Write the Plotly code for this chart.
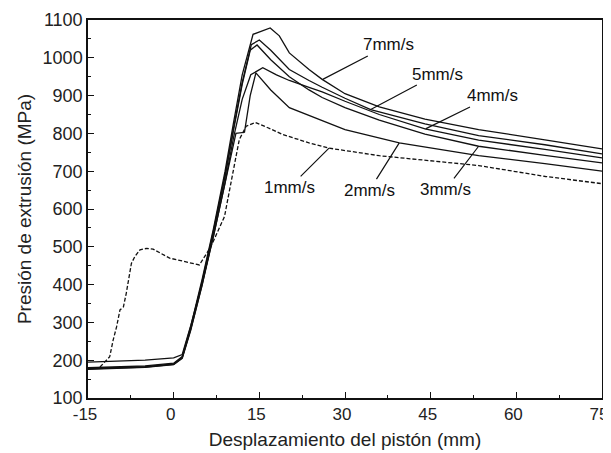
import plotly.graph_objects as go

# ---- data ----
x_7 = [-15, -10, -5, 0, 1.5, 3, 5, 7, 9, 10.5, 12, 13.9, 15.5, 16.9, 18.5, 20.25, 23.7, 26, 30, 36, 44, 53.4, 65, 75]
y_7 = [180, 182, 185, 192, 210, 290, 415, 550, 700, 830, 955, 1062, 1072, 1079, 1058, 1013, 969, 943, 905, 870, 838, 810, 783, 759]

x_5 = [-15, -10, -5, 0, 1.5, 3, 5, 7, 9, 10.5, 12, 13.6, 15, 17, 20.25, 23.7, 26, 30, 34.5, 44, 53.4, 65, 75]
y_5 = [178, 180, 183, 190, 208, 285, 410, 545, 690, 815, 935, 1035, 1047, 1020, 969, 940, 922, 893, 863, 825, 794, 770, 746]

x_4 = [-15, -10, -5, 0, 1.5, 3, 5, 7, 9, 10.5, 12, 13.5, 15.6, 18, 20.25, 23.7, 26, 30, 36, 44, 53.4, 65, 75]
y_4 = [195, 197, 200, 206, 215, 292, 405, 530, 670, 790, 890, 955, 974, 955, 940, 922, 910, 885, 850, 812, 782, 758, 735]

x_3 = [-15, -10, -5, 0, 1.5, 3, 5, 7, 9, 10.5, 12, 13.4, 14.6, 17, 20.25, 23.7, 26, 30, 36, 44, 53.4, 65, 75]
y_3 = [176, 178, 181, 188, 205, 280, 400, 540, 685, 810, 930, 1020, 1034, 995, 950, 915, 895, 868, 835, 798, 766, 742, 722]

x_2 = [-15, -10, -5, 0, 1.5, 3, 5, 7, 9, 10.9, 12.4, 13.4, 14.4, 17, 20.25, 23.7, 26, 30, 39.5, 53.4, 65, 75]
y_2 = [177, 179, 182, 189, 206, 282, 400, 530, 670, 800, 803, 900, 960, 915, 868, 848, 833, 810, 775, 741, 720, 700]

x_1 = [-12.9, -11.2, -10.6, -10, -9.4, -8.8, -8.3, -7.4, -6.8, -5.9, -4.7, -3.6, -0.7, 3.4, 4.5, 6.5, 8.9, 10.7, 11.5, 12.7, 14.3, 16.5, 19.1, 23.7, 27.2, 36, 45, 53.4, 65.1, 75]
y_1 = [182, 209, 253, 288, 333, 341, 377, 456, 474, 492, 496, 494, 470, 456, 452, 500, 580, 722, 784, 819, 829, 815, 797, 775, 761, 741, 728, 715, 686, 667]

series = [
    ("7mm/s", x_7, y_7, "solid"),
    ("5mm/s", x_5, y_5, "solid"),
    ("4mm/s", x_4, y_4, "solid"),
    ("3mm/s", x_3, y_3, "solid"),
    ("2mm/s", x_2, y_2, "solid"),
    ("1mm/s", x_1, y_1, "4px,2px"),
]

# label: (text, text x, text y, pointed x, pointed y)
labels = [
    ("7mm/s", 37.7, 1034, 26.1, 943),
    ("5mm/s", 46.2, 957, 34.5, 863),
    ("4mm/s", 55.8, 899, 44.1, 812),
    ("1mm/s", 20.3, 657, 27.2, 761),
    ("2mm/s", 34.3, 650, 39.5, 775),
    ("3mm/s", 47.6, 652, 53.4, 766),
]

x_ticks = [-15, 0, 15, 30, 45, 60, 75]
y_ticks = [100, 200, 300, 400, 500, 600, 700, 800, 900, 1000, 1100]

FONT = "Liberation Sans, Arial, sans-serif"

fig = go.Figure()
for name, xs, ys, dash in series:
    fig.add_trace(go.Scatter(x=xs, y=ys, mode="lines", name=name,
                             line=dict(color="#111111", width=1.3, dash=dash),
                             showlegend=False))

for text, tx, ty, px, py in labels:
    fig.add_annotation(x=px, y=py, ax=tx, ay=ty, axref="x", ayref="y",
                       text=text, showarrow=True, arrowhead=0, arrowwidth=1.2,
                       arrowcolor="#111111", standoff=0,
                       font=dict(family=FONT, size=17, color="#111111"))

# page body has an 8px margin, so the figure is made 8px smaller each way
fig.update_layout(
    width=603, height=445,
    margin=dict(l=80, r=9, t=12, b=55, autoexpand=False),
    paper_bgcolor="white", plot_bgcolor="white",
    font=dict(family=FONT, size=18, color="#222222"),
)
fig.update_xaxes(range=[-15, 75], tickvals=x_ticks, ticktext=[str(v) for v in x_ticks],
                 ticks="inside", ticklen=6, tickwidth=1.3, tickcolor="#111111",
                 minor=dict(dtick=7.5, ticks="inside", ticklen=3, tickcolor="#111111", showgrid=False),
                 showline=True, linecolor="#111111", linewidth=1.5, mirror=True,
                 showgrid=False, zeroline=False, automargin=False, ticklabeloverflow="allow",
                 ticklabelshift=-3,
                 title=dict(text="Desplazamiento del pistón (mm)", font=dict(size=19), standoff=10),
                 tickfont=dict(size=17))
fig.update_yaxes(range=[100, 1100], tickvals=y_ticks, ticktext=[str(v) for v in y_ticks],
                 ticks="inside", ticklen=6, tickwidth=1.3, tickcolor="#111111",
                 minor=dict(dtick=50, ticks="inside", ticklen=3, tickcolor="#111111", showgrid=False),
                 showline=True, linecolor="#111111", linewidth=1.5, mirror=True,
                 showgrid=False, zeroline=False, automargin=False,
                 title=dict(text="Presión de extrusión (MPa)", font=dict(size=19), standoff=6),
                 tickfont=dict(size=18))

fig.write_html("out.html")
